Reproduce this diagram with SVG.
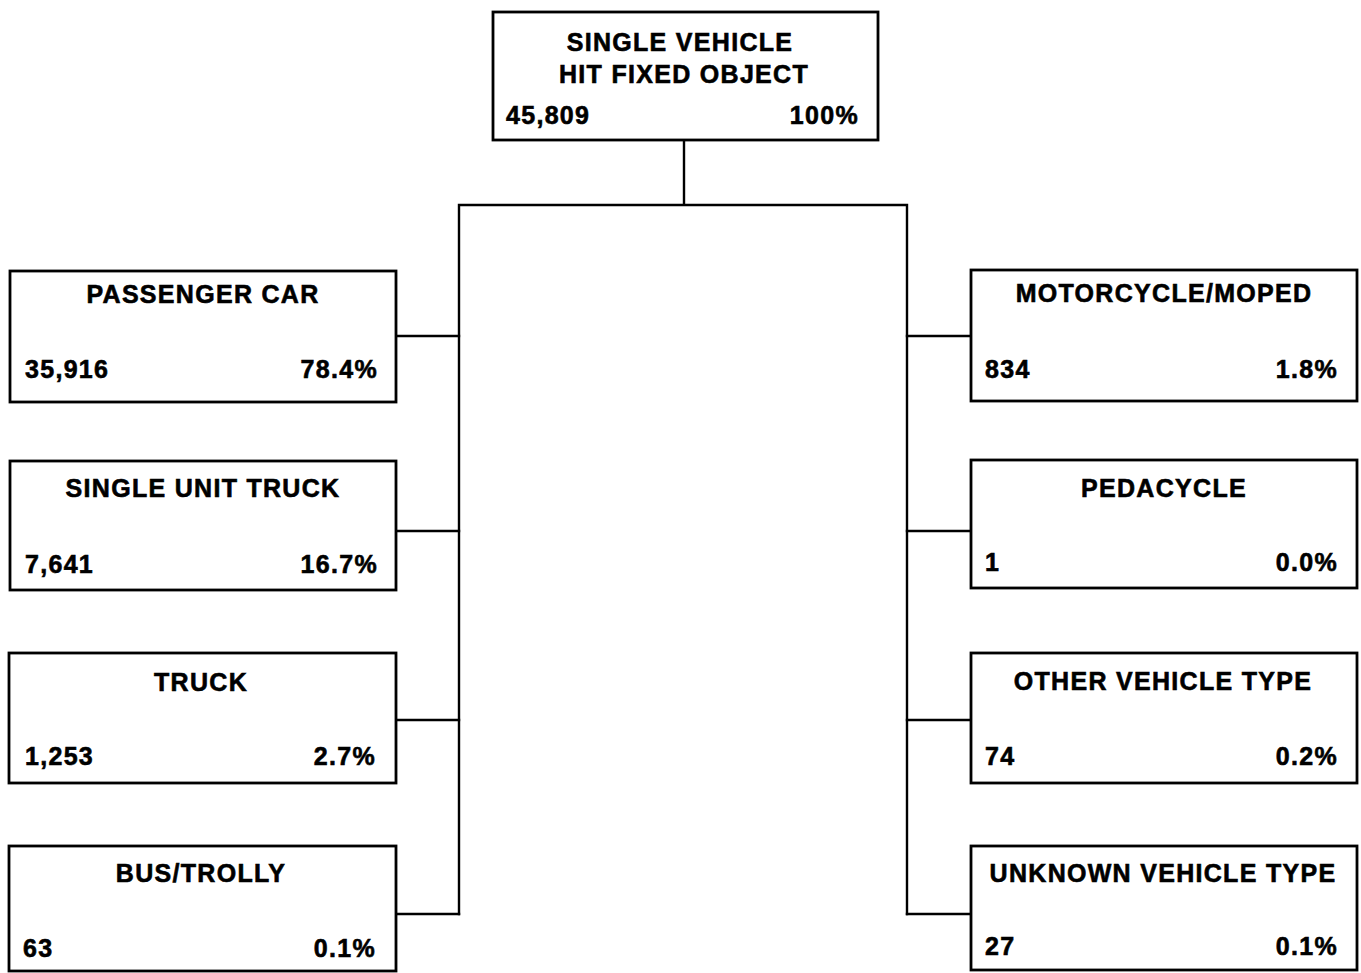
<svg xmlns="http://www.w3.org/2000/svg" width="1361" height="973" viewBox="0 0 1361 973">
<style>
.box{fill:#fff;stroke:#000;stroke-width:2.8}
.ln{fill:none;stroke:#000;stroke-width:2.4;stroke-linecap:square}
text{font-family:"Liberation Sans",Arial,sans-serif;font-weight:bold;font-size:25px;letter-spacing:1.3px;fill:#000;stroke:#000;stroke-width:0.6}
.c{text-anchor:middle}
.r{text-anchor:end}
</style>
<rect width="1361" height="973" fill="#fff"/>
<g id="connectors">
<path class="ln" d="M684 140 V205 M459 205 H907 M459 205 V914 M907 205 V914"/>
<path class="ln" d="M396 336 H459 M396 531 H459 M396 720 H459 M396 914 H459"/>
<path class="ln" d="M907 336 H971 M907 531 H971 M907 720 H971 M907 914 H971"/>
</g>
<g id="root">
<rect class="box" x="493" y="12" width="385" height="128"/>
<text class="c" x="680" y="51">SINGLE VEHICLE</text>
<text class="c" x="684" y="83">HIT FIXED OBJECT</text>
<text x="506" y="124">45,809</text>
<text class="r" x="859" y="124">100%</text>
</g>
<g id="passenger-car">
<rect class="box" x="10" y="271" width="386" height="131"/>
<text class="c" x="203" y="303">PASSENGER CAR</text>
<text x="25" y="378">35,916</text>
<text class="r" x="378" y="378">78.4%</text>
</g>
<g id="single-unit-truck">
<rect class="box" x="10" y="461" width="386" height="129"/>
<text class="c" x="203" y="497">SINGLE UNIT TRUCK</text>
<text x="25" y="573">7,641</text>
<text class="r" x="378" y="573">16.7%</text>
</g>
<g id="truck">
<rect class="box" x="9" y="653" width="387" height="130"/>
<text class="c" x="201" y="691">TRUCK</text>
<text x="25" y="765">1,253</text>
<text class="r" x="376" y="765">2.7%</text>
</g>
<g id="bus-trolly">
<rect class="box" x="9" y="846" width="387" height="125"/>
<text class="c" x="201" y="882">BUS/TROLLY</text>
<text x="23" y="957">63</text>
<text class="r" x="376" y="957">0.1%</text>
</g>
<g id="motorcycle-moped">
<rect class="box" x="971" y="270" width="386" height="131"/>
<text class="c" x="1164" y="302">MOTORCYCLE/MOPED</text>
<text x="985" y="378">834</text>
<text class="r" x="1338" y="378">1.8%</text>
</g>
<g id="pedacycle">
<rect class="box" x="971" y="460" width="386" height="128"/>
<text class="c" x="1164" y="497">PEDACYCLE</text>
<text x="985" y="571">1</text>
<text class="r" x="1338" y="571">0.0%</text>
</g>
<g id="other-vehicle-type">
<rect class="box" x="971" y="653" width="386" height="130"/>
<text class="c" x="1163" y="690">OTHER VEHICLE TYPE</text>
<text x="985" y="765">74</text>
<text class="r" x="1338" y="765">0.2%</text>
</g>
<g id="unknown-vehicle-type">
<rect class="box" x="971" y="846" width="386" height="124"/>
<text class="c" x="1163" y="882">UNKNOWN VEHICLE TYPE</text>
<text x="985" y="955">27</text>
<text class="r" x="1338" y="955">0.1%</text>
</g>
</svg>
